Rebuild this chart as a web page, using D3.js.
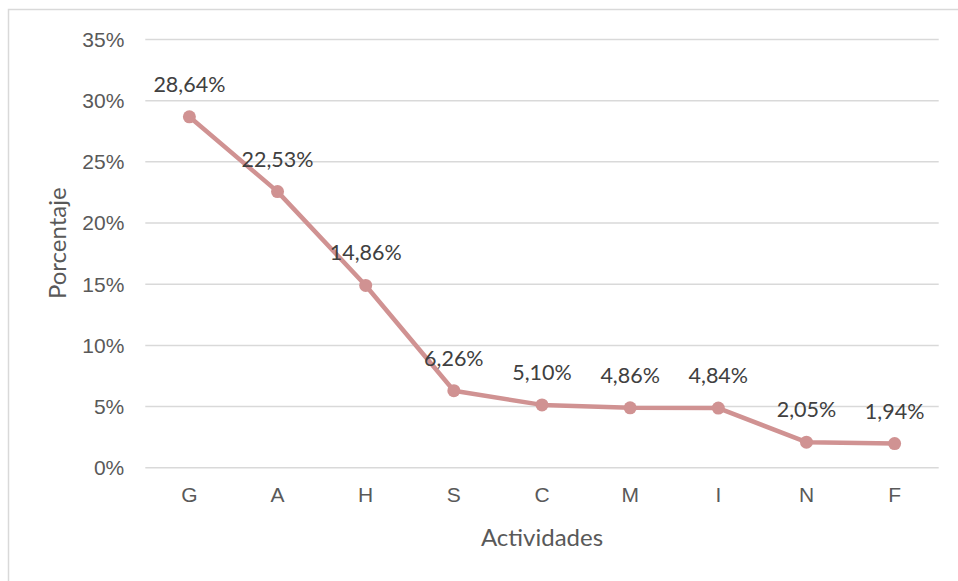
<!DOCTYPE html>
<html>
<head>
<meta charset="utf-8">
<script src="https://cdn.jsdelivr.net/npm/d3@7"></script>
<style>
  html, body { margin: 0; padding: 0; background: #fff; }
  svg { display: block; font-family: Lato, "Open Sans", sans-serif; }
</style>
</head>
<body>
<svg id="chart" width="958" height="581"></svg>
<script>
// Share of each activity, in percent
const categories = ["G", "A", "H", "S", "C", "M", "I", "N", "F"];
const values = [28.64, 22.53, 14.86, 6.26, 5.10, 4.86, 4.84, 2.05, 1.94];
const yTicks = [0, 5, 10, 15, 20, 25, 30, 35];
const xTitle = "Actividades";
const yTitle = "Porcentaje";

const svg = d3.select("#chart");
const W = 958, H = 581;
const plot = { left: 145.3, right: 938.7, top: 39, bottom: 467.3 };
const lineColor = "#d09292";

// chart frame
svg.append("rect")
  .attr("x", 8.5).attr("y", 9.5)
  .attr("width", W + 10).attr("height", H + 10)
  .attr("fill", "#fff").attr("stroke", "#d9d9d9").attr("stroke-width", 1.5);

const x = d3.scaleBand().domain(categories).range([plot.left, plot.right]);
const y = d3.scaleLinear().domain([0, 35]).range([plot.bottom, plot.top]);

// horizontal gridlines + y tick labels
const yAxis = d3.axisLeft(y)
  .tickValues(yTicks)
  .tickSize(-(plot.right - plot.left))
  .tickPadding(21)
  .tickFormat(d => d + "%");
const gy = svg.append("g").attr("transform", `translate(${plot.left},0)`).call(yAxis);
gy.select(".domain").remove();
gy.selectAll(".tick line").attr("stroke", "#d9d9d9").attr("stroke-width", 1.5);
gy.selectAll(".tick text")
  .attr("fill", "#595959").attr("font-size", 21).attr("dy", "0.35em");

// category labels
const xAxis = d3.axisBottom(x).tickSize(0).tickPadding(20);
const gx = svg.append("g").attr("transform", `translate(0,${plot.bottom})`).call(xAxis);
gx.select(".domain").remove();
gx.selectAll(".tick text")
  .attr("fill", "#595959").attr("font-size", 21).attr("dy", "0.71em");

// axis titles
svg.append("text")
  .attr("x", (plot.left + plot.right) / 2).attr("y", 546)
  .attr("text-anchor", "middle").attr("fill", "#595959").attr("font-size", 24)
  .text(xTitle);
svg.append("text")
  .attr("transform", `translate(66,${(plot.top + plot.bottom) / 2 - 10}) rotate(-90)`)
  .attr("text-anchor", "middle").attr("fill", "#595959").attr("font-size", 24)
  .text(yTitle);

const data = categories.map((c, i) => ({ c, v: values[i] }));
const cx = d => x(d.c) + x.bandwidth() / 2;

// series line
svg.append("path")
  .datum(data)
  .attr("fill", "none")
  .attr("stroke", lineColor)
  .attr("stroke-width", 4.5)
  .attr("stroke-linejoin", "round")
  .attr("d", d3.line().x(cx).y(d => y(d.v)));

// markers
svg.append("g").selectAll("circle")
  .data(data).join("circle")
  .attr("cx", cx).attr("cy", d => y(d.v)).attr("r", 6.5)
  .attr("fill", lineColor);

// value labels
const fmt = v => v.toFixed(2).replace(".", ",") + "%";
svg.append("g").selectAll("text")
  .data(data).join("text")
  .attr("x", cx).attr("y", d => y(d.v) - 25)
  .attr("text-anchor", "middle").attr("fill", "#404040").attr("font-size", 21.5)
  .text(d => fmt(d.v));
</script>
</body>
</html>
